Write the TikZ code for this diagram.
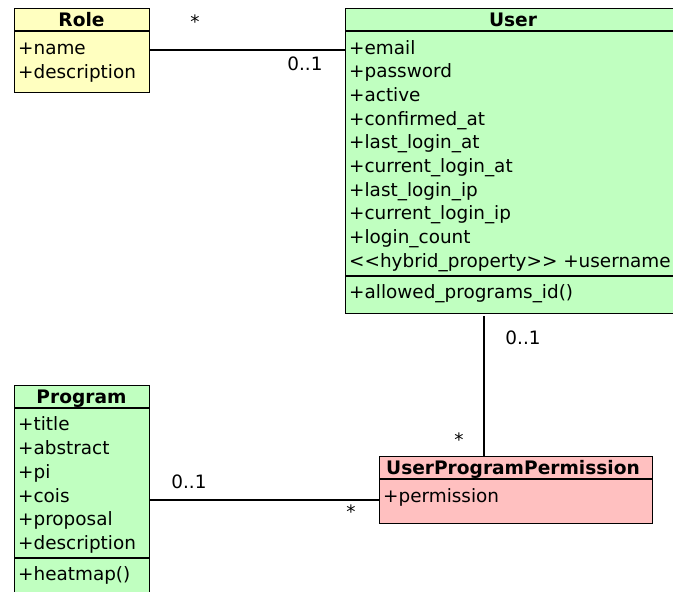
\documentclass[tikz,border=0pt]{standalone}
\usepackage{fontspec}
\setmainfont{DejaVu Sans}
\begin{document}
\begin{tikzpicture}[x=1pt,y=-1pt,
  classbox/.style={draw=black, line width=1.3pt, rectangle, inner sep=0pt, anchor=north west},
  sep/.style={draw=black, line width=1.3pt},
  conn/.style={draw=black, line width=1.3pt},
  title/.style={anchor=base, inner sep=0pt, font=\fontsize{18.6}{23.7}\selectfont\bfseries},
  attr/.style={anchor=base west, inner sep=0pt, font=\fontsize{18.4}{23.7}\selectfont},
  mult/.style={anchor=center, inner sep=0pt, font=\fontsize{18.4}{23.7}\selectfont}]
\useasboundingbox (0,0) rectangle (673,592);
\clip (0,0) rectangle (673,592);
\definecolor{ylw}{RGB}{255,255,192}
\definecolor{grn}{RGB}{192,255,192}
\definecolor{pnk}{RGB}{255,192,192}
% Role
\node[classbox, fill=ylw, minimum width=135pt, minimum height=84pt] (role) at (14,8) {};
\draw[sep] (14,31) -- (149,31);
\node[title] (roleT) at (81.5,26.5) {Role};
\node[attr] (roleA1) at (18,54) {+name};
\node[attr] (roleA2) at (18,78) {+description};
% User
\node[classbox, fill=grn, minimum width=336pt, minimum height=305pt] (user) at (345,8) {};
\draw[sep] (345,31) -- (681,31);
\draw[sep] (345,276) -- (681,276);
\node[title] (userT) at (513,26.5) {User};
\node[attr] (userA1) at (349,54) {+email};
\node[attr] (userA2) at (349,77.7) {+password};
\node[attr] (userA3) at (349,101.4) {+active};
\node[attr] (userA4) at (349,125.1) {+confirmed\_at};
\node[attr] (userA5) at (349,148.8) {+last\_login\_at};
\node[attr] (userA6) at (349,172.5) {+current\_login\_at};
\node[attr] (userA7) at (349,196.2) {+last\_login\_ip};
\node[attr] (userA8) at (349,219.9) {+current\_login\_ip};
\node[attr] (userA9) at (349,243.6) {+login\_count};
\node[attr] (userA10) at (349,267.3) {<{}<hybrid\_property>{}> +username};
\node[attr] (userM1) at (349,298) {+allowed\_programs\_id()};
% Program
\node[classbox, fill=grn, minimum width=135pt, minimum height=215pt] (program) at (14,385) {};
\draw[sep] (14,408) -- (149,408);
\draw[sep] (14,558) -- (149,558);
\node[title] (progT) at (81.5,403.5) {Program};
\node[attr] (progA1) at (18,430) {+title};
\node[attr] (progA2) at (18,454) {+abstract};
\node[attr] (progA3) at (18,478) {+pi};
\node[attr] (progA4) at (18,502) {+cois};
\node[attr] (progA5) at (18,525) {+proposal};
\node[attr] (progA6) at (18,549) {+description};
\node[attr] (progM1) at (18,580) {+heatmap()};
% UserProgramPermission
\node[classbox, fill=pnk, minimum width=273pt, minimum height=67pt] (upp) at (379,456) {};
\draw[sep] (379,479) -- (652,479);
\node[title] (uppT) at (513,474.5) {UserProgramPermission};
\node[attr] (uppA1) at (383,502) {+permission};
% connectors
\draw[conn] (role.east |- 0,50) -- (user.west |- 0,50);
\node[mult] (m1) at (195,22) {*};
\node[mult] (m2) at (305,64) {0..1};
\draw[conn, shorten <=2pt] (user.south -| 484,0) -- (upp.north -| 484,0);
\node[mult] (m3) at (523,338) {0..1};
\node[mult] (m4) at (459,440) {*};
\draw[conn] (program.east |- 0,500) -- (upp.west |- 0,500);
\node[mult] (m5) at (189,482) {0..1};
\node[mult] (m6) at (351,512) {*};
\end{tikzpicture}
\end{document}
